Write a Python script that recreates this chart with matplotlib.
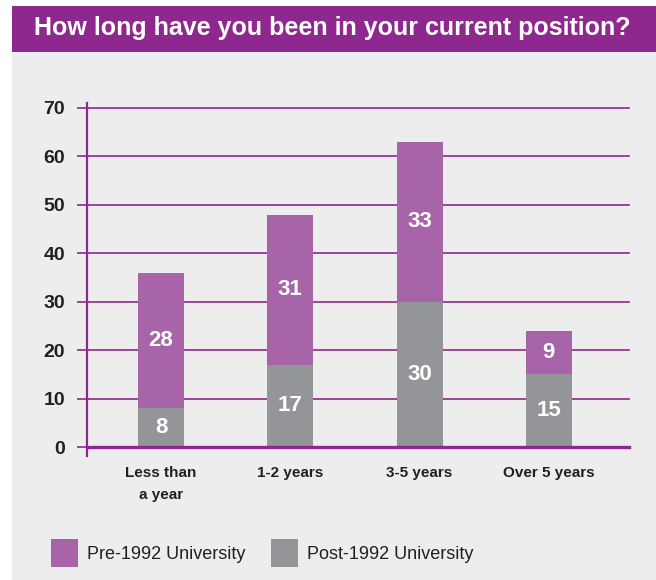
import numpy as np
import matplotlib
matplotlib.use("Agg")
import matplotlib.pyplot as plt
from matplotlib.patches import Rectangle

# data
categories = ["Less than\na year", "1-2 years", "3-5 years", "Over 5 years"]
post_1992 = [8, 17, 30, 15]
pre_1992 = [28, 31, 33, 9]
series_names = ["Pre-1992 University", "Post-1992 University"]
y_ticks = [0, 10, 20, 30, 40, 50, 60, 70]

PURPLE_DARK = "#8E278E"
PURPLE_BAR = "#A864A8"
GREY_BAR = "#939598"
PANEL = "#EDEDED"
TEXT = "#231F20"

plt.rcParams['font.family'] = ['Liberation Sans Narrow', 'Liberation Sans', 'DejaVu Sans']

W, H = 656, 580
fig = plt.figure(figsize=(W / 100, H / 100), dpi=100)
fig.patch.set_facecolor("white")

# grey panel and purple title banner (behind the axes)
fig.patches.append(Rectangle((12 / W, 0), 1, 528 / H, transform=fig.transFigure,
                             facecolor=PANEL, edgecolor="none", zorder=-5))
fig.patches.append(Rectangle((12 / W, 528 / H), 1, 46 / H, transform=fig.transFigure,
                             facecolor=PURPLE_DARK, edgecolor="none", zorder=-5))
fig.text(332 / W, 1 - 35 / H, "How long have you been in your current position?",
         color="white", fontsize=18, fontweight="bold", ha="center", va="baseline")

ax = fig.add_axes([87 / W, 133 / H, (629 - 87) / W, (447 - 108) / H])
ax.set_facecolor("none")

x = np.arange(len(categories))
bw = 0.356
post_bars = ax.bar(x, post_1992, width=bw, color=GREY_BAR, zorder=3, label=series_names[1])
pre_bars = ax.bar(x, pre_1992, width=bw, bottom=post_1992, color=PURPLE_BAR, zorder=3,
                  label=series_names[0])

for i in range(len(categories)):
    ax.text(x[i], post_1992[i] / 2, str(post_1992[i]), color="white", fontsize=16,
            fontweight="bold", ha="center", va="center", zorder=4)
    ax.text(x[i], post_1992[i] + pre_1992[i] / 2, str(pre_1992[i]), color="white",
            fontsize=16, fontweight="bold", ha="center", va="center", zorder=4)

ax.set_xlim(-0.572, 3.62)
ax.set_ylim(0, 70)
ax.set_yticks(y_ticks)
ax.set_yticklabels([str(t) for t in y_ticks], fontsize=14, fontweight="bold", color=TEXT)
ax.set_xticks(x)
ax.set_xticklabels(categories, fontsize=11, fontweight="bold", color=TEXT, linespacing=1.65)
ax.tick_params(axis="x", length=0, pad=14)
ax.tick_params(axis="y", length=7.2, width=1.2, color=PURPLE_DARK, pad=8.6)

ax.grid(axis="y", color=PURPLE_DARK, linewidth=1.2, zorder=1)
ax.set_axisbelow(True)
for gl in ax.get_ygridlines():
    gl.set_clip_on(False)
for s in ["top", "right", "left"]:
    ax.spines[s].set_visible(False)
ax.spines["bottom"].set_color(PURPLE_DARK)
ax.spines["bottom"].set_linewidth(2.4)
ax.spines["bottom"].set_zorder(5)
# left axis line runs a little past both ends
ax.plot([-0.572, -0.572], [-1.9, 71], color=PURPLE_DARK, linewidth=1.6,
        clip_on=False, zorder=5)

fig.legend(handles=[pre_bars, post_bars], loc="center left",
           bbox_to_anchor=(35 / W, 1 - 553 / H), frameon=False, ncol=2,
           fontsize=13, handlelength=1.5, handleheight=1.93, handletextpad=0.5,
           columnspacing=1.4, labelcolor=TEXT)

fig.savefig("out.png", dpi=100)
